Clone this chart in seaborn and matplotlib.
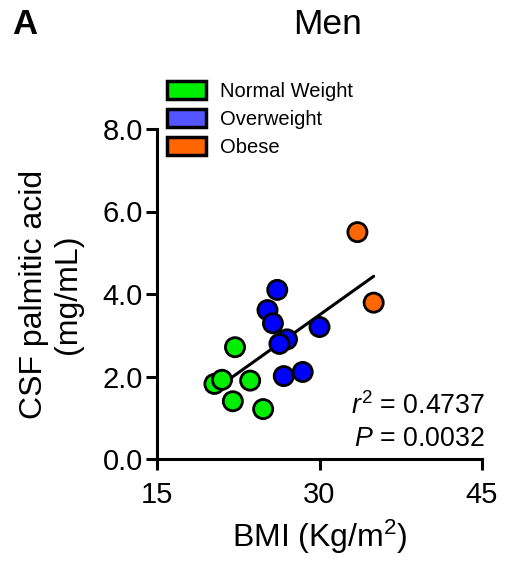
import matplotlib
matplotlib.use("Agg")
import matplotlib.pyplot as plt
import seaborn as sns
import pandas as pd
from matplotlib.patches import Patch

# ---- data ----
groups = ["Normal Weight", "Overweight", "Obese"]
normal_bmi = [22.2, 20.3, 21.0, 23.6, 22.0, 24.8]
normal_pa = [2.71, 1.82, 1.92, 1.90, 1.40, 1.21]
over_bmi = [26.1, 25.2, 25.7, 30.0, 27.0, 26.3, 26.7, 28.45]
over_pa = [4.10, 3.61, 3.29, 3.20, 2.90, 2.79, 2.01, 2.11]
obese_bmi = [33.5, 35.0]
obese_pa = [5.50, 3.79]
x_ticks = [15, 30, 45]
y_ticks = [0, 2, 4, 6, 8]
stats_r2 = "0.4737"
stats_p = "0.0032"

marker_colors = {"Normal Weight": "#00ee00", "Overweight": "#0000ff", "Obese": "#ff6600"}
legend_colors = {"Normal Weight": "#00ee00", "Overweight": "#5555ff", "Obese": "#ff6600"}

df = pd.DataFrame({
    "BMI": normal_bmi + over_bmi + obese_bmi,
    "PA": normal_pa + over_pa + obese_pa,
    "Group": [groups[0]] * len(normal_bmi) + [groups[1]] * len(over_bmi) + [groups[2]] * len(obese_bmi),
})

sns.set_theme(style="ticks")
plt.rcParams["font.family"] = ["Liberation Sans", "DejaVu Sans"]
plt.rcParams["mathtext.fontset"] = "custom"
plt.rcParams["mathtext.rm"] = "Liberation Sans"
plt.rcParams["mathtext.it"] = "Liberation Sans:italic"
for k in ["text.color", "axes.labelcolor", "xtick.color", "ytick.color", "axes.edgecolor"]:
    plt.rcParams[k] = "black"

fig = plt.figure(figsize=(5.05, 5.63), dpi=100)
ax = fig.add_axes([157 / 505, 1 - 459 / 563, 325 / 505, 330 / 563])

sns.regplot(data=df, x="BMI", y="PA", scatter=False, ci=None, truncate=True,
            color="black", line_kws={"linewidth": 2.2, "zorder": 2}, ax=ax)
sns.scatterplot(data=df, x="BMI", y="PA", hue="Group", palette=marker_colors,
                s=190, edgecolor="black", linewidth=2.0, legend=False, zorder=3, ax=ax)

ax.set_xlim(15, 45)
ax.set_ylim(0, 8)
ax.set_xticks(x_ticks)
ax.set_yticks(y_ticks)
ax.set_yticklabels([f"{v:.1f}" for v in y_ticks])
ax.tick_params(axis="both", labelsize=21, width=2.2, length=8, color="black", labelcolor="black")
ax.tick_params(axis="x", pad=8)
ax.tick_params(axis="y", pad=2)
for side in ["top", "right"]:
    ax.spines[side].set_visible(False)
for side in ["left", "bottom"]:
    ax.spines[side].set_linewidth(2.2)
    ax.spines[side].set_color("black")

ax.set_xlabel(r"BMI (Kg/m$^{2}$)", fontsize=23, labelpad=6)
ax.set_ylabel("CSF palmitic acid\n(mg/mL)", fontsize=23, labelpad=14, linespacing=1.2)

ax.text(1.01, 0.135, r"$\mathit{r}^{2}$ = " + stats_r2, transform=ax.transAxes,
        ha="right", va="baseline", fontsize=19.3)
ax.text(1.01, 0.04, r"$\mathit{P}$ = " + stats_p, transform=ax.transAxes,
        ha="right", va="baseline", fontsize=19.3)

fig.text(327 / 505, 1 - 25 / 563, "Men", ha="center", va="center", fontsize=25.5)
fig.text(12 / 505, 1 - 25 / 563, "A", ha="left", va="center", fontsize=25, fontweight="bold")

handles = [Patch(facecolor=legend_colors[g], edgecolor="black", linewidth=2.5) for g in groups]
ax.legend(handles, groups, loc="upper left", bbox_to_anchor=(167 / 505, 1 - 81 / 563),
          bbox_transform=fig.transFigure, frameon=False, fontsize=14.5,
          handlelength=1.95, handleheight=1.0, labelspacing=0.4, handletextpad=0.7,
          borderpad=0, borderaxespad=0)

fig.savefig("out.png", dpi=100)
